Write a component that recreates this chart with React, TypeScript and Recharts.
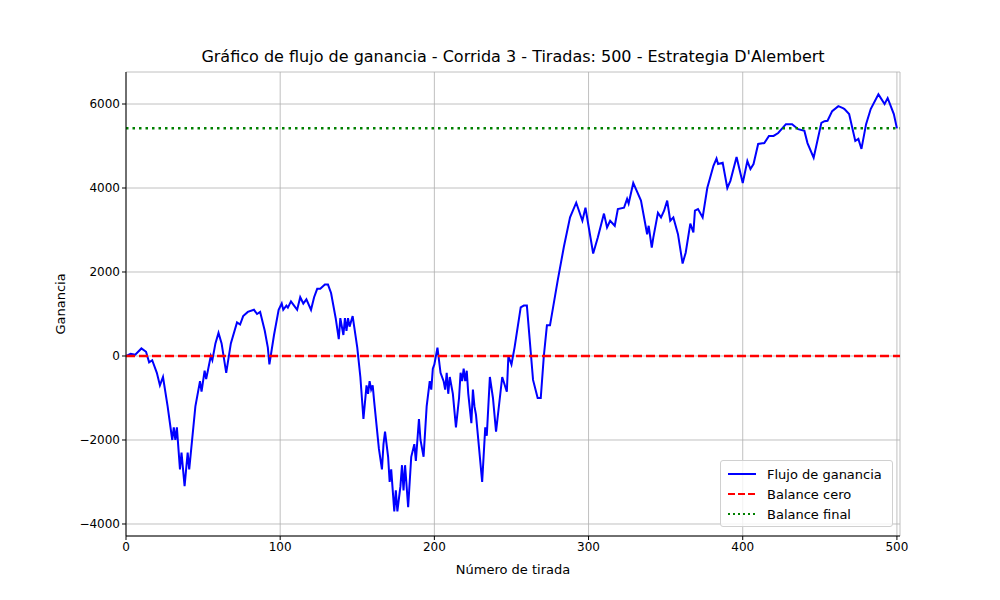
import React from "react";
import { LineChart, Line, XAxis, YAxis, CartesianGrid, ReferenceLine } from "recharts";

const tiradas = [0,3,6,10,13,15,17,20,22,24,27,30,31,32,33,35,36,38,40,41,45,48,49,51,52,55,56,58,60,62,65,68,72,74,76,79,83,85,87,90,92,93,96,99,101,102,104,105,107,109,111,113,115,117,120,122,124,126,129,131,133,136,138,139,141,142,143,144,145,147,148,150,152,154,156,157,158,159,160,161,164,166,167,168,170,171,172,174,175,176,178,179,180,181,183,185,187,188,190,191,193,195,197,198,199,200,202,204,206,207,208,209,210,212,214,216,217,218,219,220,221,222,224,225,226,227,229,231,233,234,236,238,240,244,247,248,250,252,256,258,260,264,267,269,271,273,275,280,284,288,292,296,298,303,306,310,312,314,317,319,323,325,326,329,334,338,339,341,342,345,347,349,351,353,355,358,361,363,366,368,369,371,374,377,381,383,384,387,390,392,396,400,403,405,407,410,414,417,420,423,428,432,436,440,442,446,451,453,455,458,462,465,466,469,473,475,477,480,483,488,492,494,498,500];
const ganancia = [0,50,30,180,100,-150,-100,-400,-700,-500,-1200,-2000,-1700,-2000,-1700,-2700,-2300,-3100,-2300,-2700,-1200,-600,-850,-350,-550,0,-100,300,550,300,-400,300,800,750,950,1050,1100,1000,1050,600,200,-200,500,1100,1250,1100,1200,1150,1300,1200,1100,1400,1250,1350,1100,1400,1600,1600,1700,1700,1500,900,400,900,500,900,600,900,700,950,700,200,-500,-1500,-700,-900,-600,-800,-700,-1100,-2200,-2700,-2100,-1800,-2400,-3000,-2700,-3700,-3200,-3700,-3100,-2600,-3200,-2600,-3600,-2400,-2100,-2500,-1500,-2000,-2400,-1200,-600,-800,-300,-200,200,-400,-600,-800,-400,-900,-500,-900,-1700,-1000,-400,-600,-300,-600,-350,-900,-1600,-800,-1200,-1400,-2200,-3000,-1700,-1900,-500,-1000,-1800,-500,-850,0,-200,200,1160,1200,1200,-570,-1000,-1000,0,730,730,1800,2600,3300,3650,3220,3530,2440,2820,3390,3060,3220,3100,3500,3530,3740,3630,4120,3700,2900,3100,2580,2820,3410,3300,3460,3700,3220,3300,2900,2200,2460,3150,2940,3460,3500,3300,4000,4530,4700,4570,4600,4000,4170,4740,4120,4640,4450,4570,5050,5070,5240,5240,5310,5520,5520,5400,5360,5070,4720,5550,5590,5600,5830,5950,5900,5880,5760,5120,5170,4930,5520,5880,6230,6000,6140,5760,5420];
const xTicks = [0,100,200,300,400,500];
const yTicks = [-4000,-2000,0,2000,4000,6000];
const balanceFinal = 5420;
const data = tiradas.map((t, i) => ({ t, g: ganancia[i] }));

const font = "DejaVu Sans, sans-serif";

export default function App() {
  return (
    <div style={{ position: "absolute", left: 0, top: 0, width: 1000, height: 600, background: "#fff", fontFamily: font }}>
      <div style={{ position: "absolute", top: 47, width: 1000, textAlign: "center", fontSize: 16, paddingLeft: 26, boxSizing: "border-box" }}>
        Gráfico de flujo de ganancia - Corrida 3 - Tiradas: 500 - Estrategia D'Alembert
      </div>
      <LineChart width={1000} height={600} data={data} margin={{ top: 72, right: 100, bottom: 34, left: 66 }}>
        <CartesianGrid stroke="#b0b0b0" strokeWidth={0.8} />
        <XAxis dataKey="t" type="number" domain={[0, 502]} ticks={xTicks} allowDataOverflow height={30}
          tick={{ fill: "#000", fontSize: 12, fontFamily: font }} stroke="#000" tickLine={{ stroke: "#000" }} tickSize={4}
          label={{ value: "Número de tirada", position: "insideBottom", offset: -8, fill: "#000", fontSize: 13, fontFamily: font }} />
        <YAxis type="number" domain={[-4286, 6762]} ticks={yTicks} allowDataOverflow width={60}
          tick={{ fill: "#000", fontSize: 12, fontFamily: font }} stroke="#000" tickSize={4}
          tickFormatter={(v) => (v < 0 ? "\u2212" + Math.abs(v) : String(v))}
          label={{ value: "Ganancia", angle: -90, position: "insideLeft", offset: -6, dy: 0, fill: "#000", fontSize: 13, fontFamily: font, style: { textAnchor: "middle" } }} />
        <Line dataKey="g" stroke="#0000ff" strokeWidth={2} dot={false} isAnimationActive={false} />
        <ReferenceLine y={0} stroke="#ff0000" strokeWidth={2.5} strokeDasharray="9 4" />
        <ReferenceLine y={balanceFinal} stroke="#008000" strokeWidth={2.5} strokeDasharray="2.5 4" />
      </LineChart>
      <div style={{ position: "absolute", left: 720, top: 460, width: 171, height: 65, border: "1px solid #d0d0d0", borderRadius: 3, background: "rgba(255,255,255,0.8)", fontSize: 13 }}>
        {[
          { label: "Flujo de ganancia", color: "#0000ff", dash: "" },
          { label: "Balance cero", color: "#ff0000", dash: "7 3" },
          { label: "Balance final", color: "#008000", dash: "2 3" },
        ].map((it, i) => (
          <div key={i} style={{ position: "absolute", left: 6, top: 4 + i * 20, display: "flex", alignItems: "center", height: 18 }}>
            <svg width={30} height={10} style={{ marginRight: 10 }}>
              <line x1={1} y1={5} x2={29} y2={5} stroke={it.color} strokeWidth={2} strokeDasharray={it.dash} />
            </svg>
            <span>{it.label}</span>
          </div>
        ))}
      </div>
    </div>
  );
}
